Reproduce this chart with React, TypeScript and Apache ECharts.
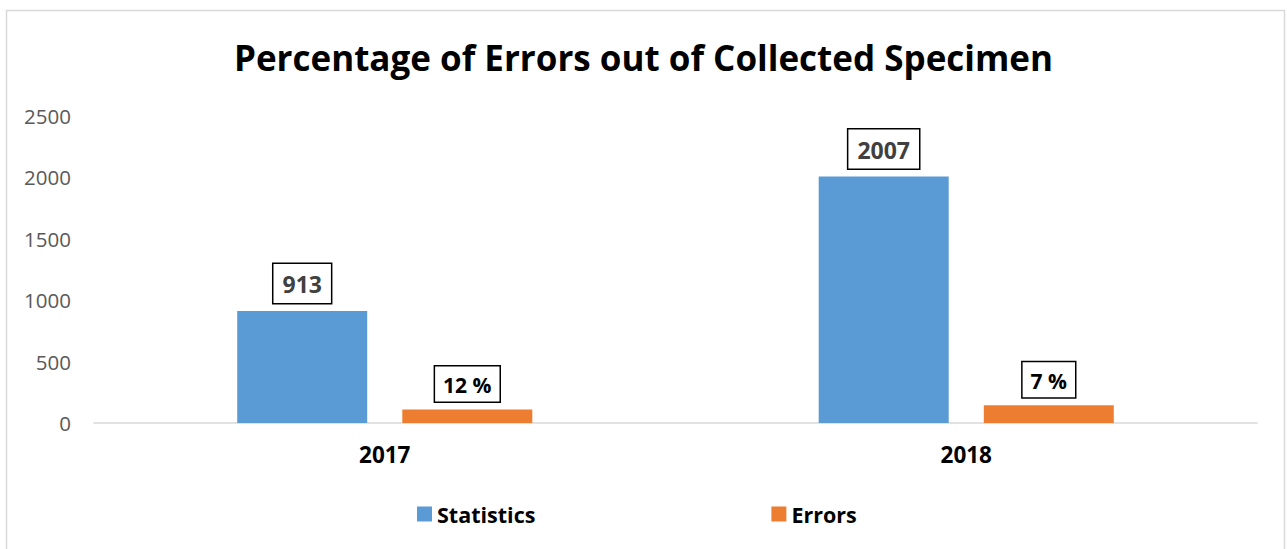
import React, { useEffect, useRef } from "react";
import * as echarts from "echarts";

const categories = ["2017", "2018"];
const statisticsValues = [913, 2007];
const errorsValues = [110, 145];
const errorsLabels = ["12 %", "7 %"];
const yTicks = { min: 0, max: 2500, interval: 500 };

const FONT = "'Open Sans', 'Liberation Sans', sans-serif";

export default function App() {
  const ref = useRef<HTMLDivElement>(null);
  useEffect(() => {
    if (!ref.current) return;
    const chart = echarts.init(ref.current, null, { renderer: "svg" });
    chart.setOption({
      animation: false,
      backgroundColor: "#ffffff",
      textStyle: { fontFamily: FONT },
      title: {
        text: "Percentage of Errors out of Collected Specimen",
        left: "center",
        top: 35,
        textStyle: { fontFamily: FONT, fontSize: 35, fontWeight: "bold", color: "#000000" },
      },
      graphic: [
        {
          type: "rect",
          shape: { x: 6.5, y: 10.5, width: 1278, height: 560 },
          style: { fill: "none", stroke: "#d9d9d9", lineWidth: 1.5 },
          silent: true,
        },
      ],
      legend: {
        bottom: 19,
        left: 412,
        itemWidth: 15,
        itemHeight: 15,
        itemGap: 236,
        icon: "rect",
        textStyle: { fontFamily: FONT, fontSize: 21.5, fontWeight: "bold", color: "#000000" },
        data: ["Statistics", "Errors"],
      },
      grid: { left: 94, right: 30, top: 116, bottom: 126, containLabel: false },
      xAxis: {
        type: "category",
        data: categories,
        axisLine: { lineStyle: { color: "#d9d9d9", width: 1.5 } },
        axisTick: { show: false },
        axisLabel: { margin: 20, fontFamily: FONT, fontSize: 22.5, fontWeight: "bold", color: "#000000" },
      },
      yAxis: {
        type: "value",
        min: yTicks.min,
        max: yTicks.max,
        interval: yTicks.interval,
        axisLine: { show: false },
        axisTick: { show: false },
        splitLine: { show: false },
        axisLabel: {
          margin: 23,
          fontFamily: FONT,
          fontSize: 20.5,
          color: "#595959",
          formatter: (v: number) => String(v),
        },
      },
      series: [
        {
          name: "Statistics",
          type: "bar",
          data: statisticsValues,
          barWidth: 130,
          barGap: "27%",
          itemStyle: { color: "#5b9bd5" },
          label: {
            show: true,
            position: "top",
            distance: 8,
            fontFamily: FONT,
            fontSize: 23,
            fontWeight: "bold",
            color: "#404040",
            backgroundColor: "#ffffff",
            borderColor: "#000000",
            borderWidth: 1.5,
            padding: [9, 9, 7, 9],
          },
        },
        {
          name: "Errors",
          type: "bar",
          data: errorsValues,
          barWidth: 130,
          itemStyle: { color: "#ed7d31" },
          label: {
            show: true,
            position: "top",
            distance: 8,
            fontFamily: FONT,
            fontSize: 21,
            fontWeight: "bold",
            color: "#000000",
            backgroundColor: "#ffffff",
            borderColor: "#000000",
            borderWidth: 1.5,
            padding: [8, 8, 6, 8],
            formatter: (p: any) => errorsLabels[p.dataIndex],
          },
        },
      ],
    });
    return () => chart.dispose();
  }, []);
  return (
    <div
      ref={ref}
      style={{ position: "fixed", left: 0, top: 0, width: 1287, height: 549 }}
    />
  );
}
